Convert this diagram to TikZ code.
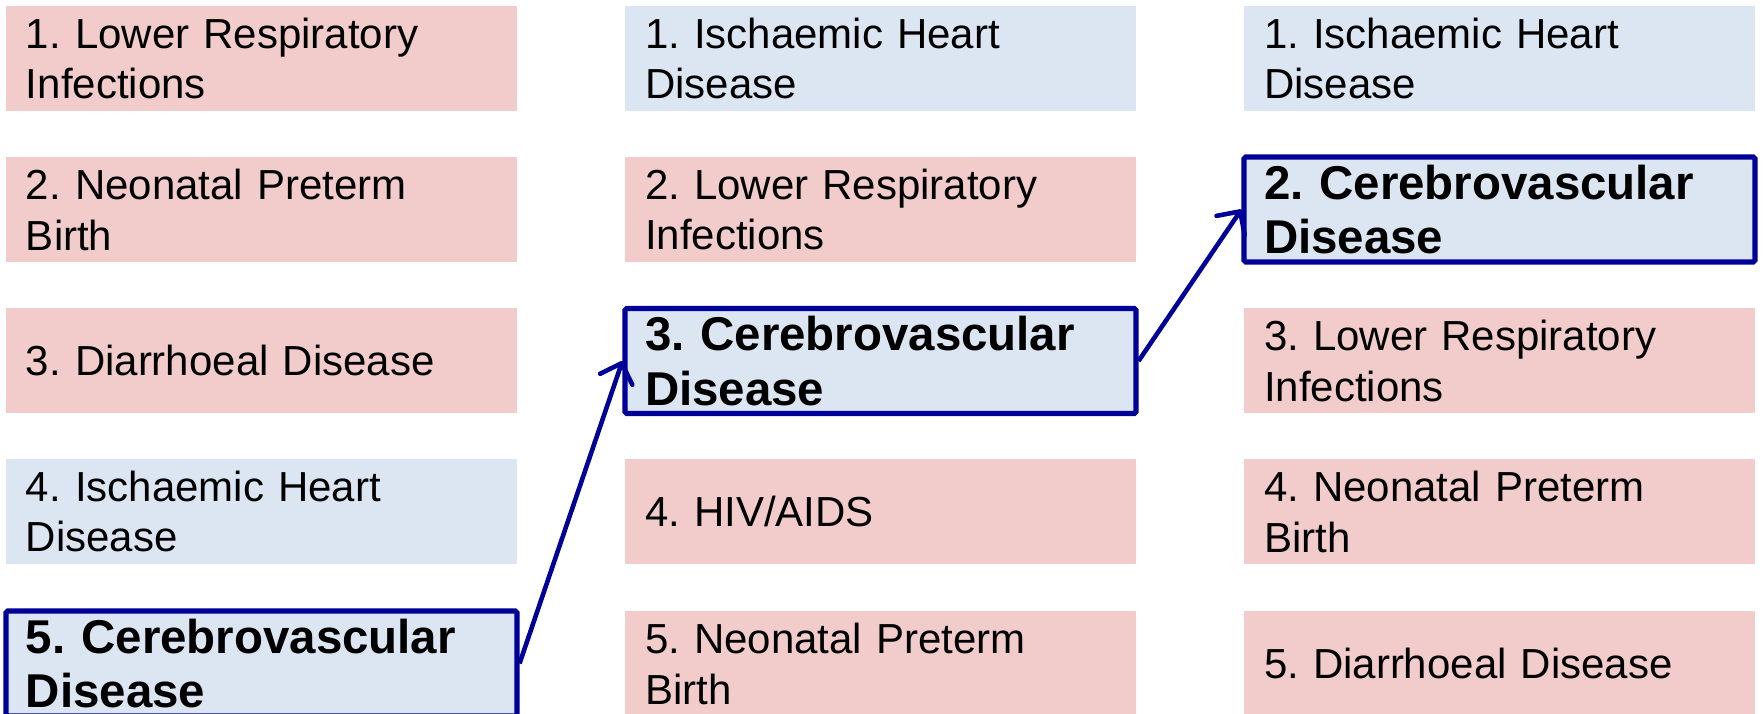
\documentclass[tikz,border=0pt]{standalone}
\usepackage{fontspec}
\setmainfont{Liberation Sans}
\usetikzlibrary{arrows.meta}
\definecolor{rowpink}{RGB}{242,203,203}
\definecolor{rowblue}{RGB}{220,230,243}
\definecolor{markblue}{RGB}{0,0,153}
\frenchspacing

\begin{document}
\begin{tikzpicture}[
    cell/.style={minimum height=1.05cm, text width=4.71cm, inner xsep=0.2cm, inner ysep=0pt,
      align=left, font=\fontsize{11.95pt}{14.5pt}\selectfont},
    pinkcell/.style={cell, fill=rowpink},
    bluecell/.style={cell, fill=rowblue},
    hicell/.style={bluecell, draw=markblue, line width=1.45pt, rounded corners=0.5pt,
      font=\fontsize{13.5pt}{15.6pt}\selectfont\bfseries},
    jump/.style={markblue, line width=1.3pt, -{Straight Barb[length=0.17cm,width=0.34cm,round]}}
  ]
  \useasboundingbox (0,0) rectangle (17.63,-7.14);
  % left column
  \node[pinkcell] (l1) at (2.615,-0.585) {1. Lower Respiratory\\Infections};
  \node[pinkcell] (l2) at (2.615,-2.095) {2. Neonatal Preterm\\Birth};
  \node[pinkcell] (l3) at (2.615,-3.61) {3. Diarrhoeal Disease};
  \node[bluecell] (l4) at (2.615,-5.115) {4. Ischaemic Heart\\Disease};
  \node[hicell] (l5) at (2.615,-6.635) {5. Cerebrovascular\\Disease};
  % middle column
  \node[bluecell] (m1) at (8.805,-0.585) {1. Ischaemic Heart\\Disease};
  \node[pinkcell] (m2) at (8.805,-2.095) {2. Lower Respiratory\\Infections};
  \node[hicell] (m3) at (8.805,-3.61) {3. Cerebrovascular\\Disease};
  \node[pinkcell] (m4) at (8.805,-5.115) {4. HIV/AIDS};
  \node[pinkcell] (m5) at (8.805,-6.635) {5. Neonatal Preterm\\Birth};
  % right column
  \node[bluecell] (r1) at (14.995,-0.585) {1. Ischaemic Heart\\Disease};
  \node[hicell] (r2) at (14.995,-2.095) {2. Cerebrovascular\\Disease};
  \node[pinkcell] (r3) at (14.995,-3.61) {3. Lower Respiratory\\Infections};
  \node[pinkcell] (r4) at (14.995,-5.115) {4. Neonatal Preterm\\Birth};
  \node[pinkcell] (r5) at (14.995,-6.635) {5. Diarrhoeal Disease};
  % climb arrows
  \draw[jump] (l5.east) -- (m3.west);
  \draw[jump] (m3.east) -- (r2.west);
\end{tikzpicture}
\end{document}
